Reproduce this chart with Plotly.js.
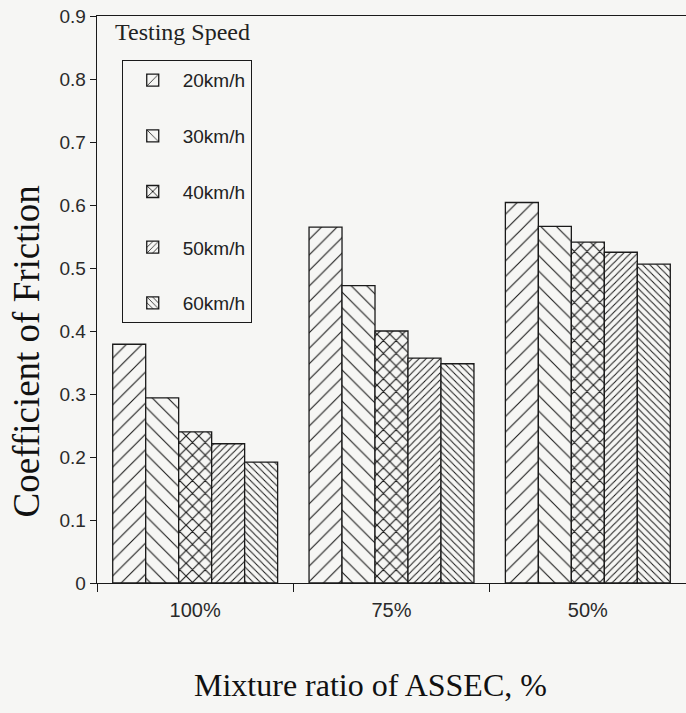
<!DOCTYPE html>
<html>
<head>
<meta charset="utf-8">
<script src="https://cdn.plot.ly/plotly-3.0.1.min.js"></script>
<style>html,body{margin:0;padding:0;background:#f6f6f4;}#chart{width:686px;height:713px;}</style>
</head>
<body>
<div id="chart"></div>
<script>
const categories = ["100%", "75%", "50%"];
const seriesNames = ["20km/h", "30km/h", "40km/h", "50km/h", "60km/h"];
const v20 = [0.379, 0.565, 0.604];
const v30 = [0.294, 0.472, 0.566];
const v40 = [0.240, 0.400, 0.541];
const v50 = [0.221, 0.357, 0.525];
const v60 = [0.192, 0.348, 0.506];
const yTicks = [0, 0.1, 0.2, 0.3, 0.4, 0.5, 0.6, 0.7, 0.8, 0.9];

const bg = '#f6f6f4';
const ink = '#1a1a1a';
const patterns = [
  {shape: '/', size: 11, solidity: 0.1},
  {shape: '\\', size: 11, solidity: 0.1},
  {shape: 'x', size: 9, solidity: 0.24},
  {shape: '/', size: 5, solidity: 0.2},
  {shape: '\\', size: 5, solidity: 0.2}
];
const allVals = [v20, v30, v40, v50, v60];

const traces = allVals.map((vals, i) => ({
  type: 'bar',
  name: seriesNames[i],
  x: categories,
  y: vals,
  legendgroup: 'g' + i,
  marker: {
    color: bg,
    line: {color: ink, width: 1.3},
    pattern: {shape: patterns[i].shape, size: patterns[i].size, solidity: patterns[i].solidity,
              fgcolor: ink, bgcolor: bg, fgopacity: 1, fillmode: 'overlay'}
  },
  hoverinfo: 'skip'
}));

const layout = {
  width: 686, height: 713,
  paper_bgcolor: bg, plot_bgcolor: bg,
  margin: {l: 97, r: 0, t: 16, b: 130},
  barmode: 'group',
  bargap: 0.16,
  bargroupgap: 0,
  showlegend: true,
  legend: {
    x: 0.042, y: 0.922, xanchor: 'left', yanchor: 'top',
    bgcolor: bg, bordercolor: ink, borderwidth: 1,
    font: {family: 'Liberation Sans, Arial, sans-serif', size: 19, color: '#222'},
    tracegroupgap: 28,
    itemwidth: 50
  },
  xaxis: {
    type: 'category',
    range: [-0.5, 2.5],
    showline: true, linecolor: ink, linewidth: 1.3,
    mirror: true,
    ticks: 'outside', tickson: 'boundaries', ticklen: 8, tickcolor: ink,
    ticklabelstandoff: 9,
    showgrid: false, zeroline: false,
    tickfont: {family: 'Liberation Sans, Arial, sans-serif', size: 20, color: '#2a2a2a'}
  },
  yaxis: {
    range: [0, 0.9],
    tickvals: yTicks,
    showline: true, linecolor: ink, linewidth: 1.3,
    ticks: 'outside', ticklen: 6, tickcolor: ink,
    showgrid: false, zeroline: false,
    tickfont: {family: 'Liberation Sans, Arial, sans-serif', size: 19, color: '#2a2a2a'}
  },
  annotations: [
    {
      text: 'Testing Speed', xref: 'paper', yref: 'paper',
      x: 0.028, y: 0.998, xanchor: 'left', yanchor: 'top', showarrow: false,
      font: {family: 'Liberation Serif, Times New Roman, serif', size: 24, color: '#222'}
    },
    {
      text: 'Coefficient of Friction', xref: 'paper', yref: 'paper',
      x: -0.12, y: 0.409, xanchor: 'center', yanchor: 'middle', textangle: -90, showarrow: false,
      font: {family: 'Liberation Serif, Times New Roman, serif', size: 37, color: '#111'}
    },
    {
      text: 'Mixture ratio of ASSEC, %', xref: 'paper', yref: 'paper',
      x: 0.465, y: -0.18, xanchor: 'center', yanchor: 'middle', showarrow: false,
      font: {family: 'Liberation Serif, Times New Roman, serif', size: 32, color: '#111'}
    }
  ]
};

Plotly.newPlot('chart', traces, layout, {displayModeBar: false, staticPlot: true});
</script>
</body>
</html>
